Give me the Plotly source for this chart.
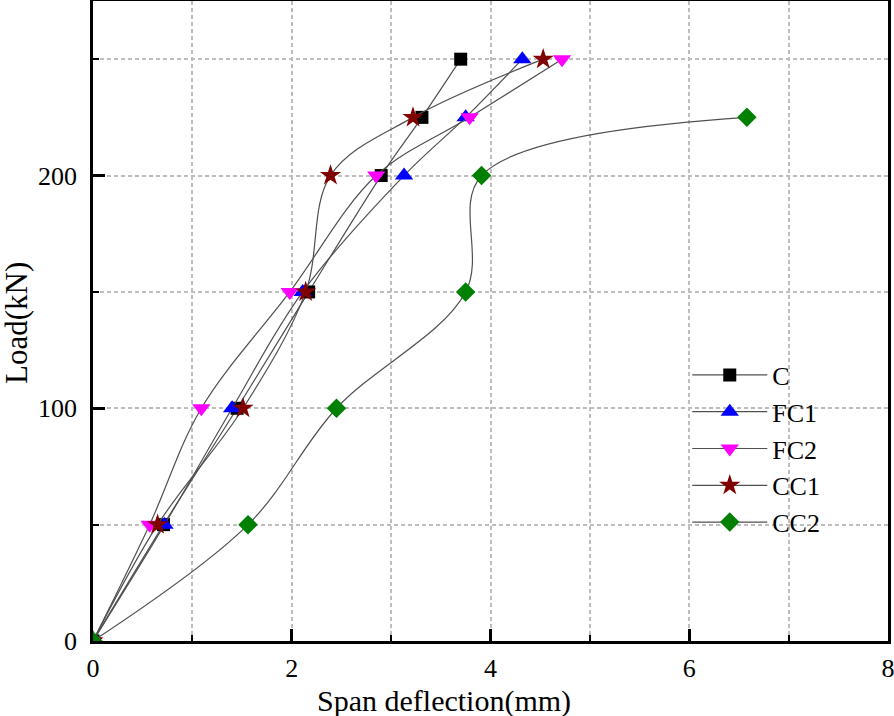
import plotly.graph_objects as go

load = [0, 50, 100, 150, 200, 225, 250]
load_cc2 = [0, 50, 100, 150, 200, 225]

defl_C = [0, 0.71, 1.45, 2.17, 2.90, 3.31, 3.70]
defl_FC1 = [0, 0.72, 1.40, 2.11, 3.13, 3.75, 4.32]
defl_FC2 = [0, 0.57, 1.09, 1.98, 2.85, 3.79, 4.72]
defl_CC1 = [0, 0.65, 1.51, 2.14, 2.39, 3.22, 4.53]
defl_CC2 = [0, 1.56, 2.45, 3.75, 3.91, 6.58]

series = [
    ("C", defl_C, load, "square", "black", 13),
    ("FC1", defl_FC1, load, "triangle-up", "blue", 16),
    ("FC2", defl_FC2, load, "triangle-down", "magenta", 16),
    ("CC1", defl_CC1, load, "star", "#800000", 16),
    ("CC2", defl_CC2, load_cc2, "diamond", "green", 15),
]

FONT = "Liberation Serif"
fig = go.Figure()
for name, xs, ys, sym, col, sz in series:
    fig.add_trace(go.Scatter(
        x=xs, y=ys, name=name, mode="lines+markers",
        line=dict(color="#505050", width=1.2, shape="spline", smoothing=1.0),
        marker=dict(symbol=sym, color=col, size=sz, line=dict(width=0)),
    ))

grid = dict(showgrid=True, gridcolor="#bdbdbd", gridwidth=1.5, griddash="4px,3px")
fig.update_xaxes(
    range=[0, 8], dtick=2, tick0=0, ticks="inside", ticklen=12, tickwidth=2.5,
    tickcolor="black", showline=True, linecolor="black", linewidth=2.5, mirror=True,
    zeroline=False, tickfont=dict(family=FONT, size=26, color="black"),
    automargin=False, ticklabeloverflow="allow", ticklabelstandoff=2,
    minor=dict(dtick=1, ticks="inside", ticklen=6, tickwidth=2, tickcolor="black",
               showgrid=True, gridcolor="#bdbdbd", gridwidth=1.5, griddash="4px,3px"),
    **grid,
)
fig.update_yaxes(
    range=[0, 275], dtick=100, tick0=0, ticks="inside", ticklen=12, tickwidth=2.5,
    tickcolor="black", showline=True, linecolor="black", linewidth=2.5, mirror=True,
    zeroline=False, tickfont=dict(family=FONT, size=26, color="black"),
    automargin=False, ticklabeloverflow="allow", ticklabelstandoff=8,
    minor=dict(dtick=50, ticks="inside", ticklen=6, tickwidth=2, tickcolor="black",
               showgrid=True, gridcolor="#bdbdbd", gridwidth=1.5, griddash="4px,3px"),
    **grid,
)
fig.add_annotation(
    text="Span deflection(mm)", xref="paper", yref="paper", x=0.4415, y=-0.094,
    yanchor="middle", xanchor="center", showarrow=False,
    font=dict(family=FONT, size=30, color="black"),
)
fig.add_annotation(
    text="Load(kN)", xref="paper", yref="paper", x=-0.0956, y=0.497,
    yanchor="middle", xanchor="center", textangle=-90, showarrow=False,
    font=dict(family=FONT, size=31, color="black"),
)
fig.update_layout(
    width=894, height=716,
    margin=dict(l=93, r=6, t=1, b=75, autoexpand=False),
    plot_bgcolor="white", paper_bgcolor="white",
    legend=dict(x=0.7475, y=0.30, xanchor="left", yanchor="middle",
                bgcolor="rgba(0,0,0,0)", font=dict(family=FONT, size=26, color="black"),
                tracegroupgap=0, itemwidth=75),
    showlegend=True,
)
fig.write_html(
    "out.html",
    config={"displayModeBar": False},
    post_script="document.body.style.margin='0';document.body.style.overflow='hidden';",
)
